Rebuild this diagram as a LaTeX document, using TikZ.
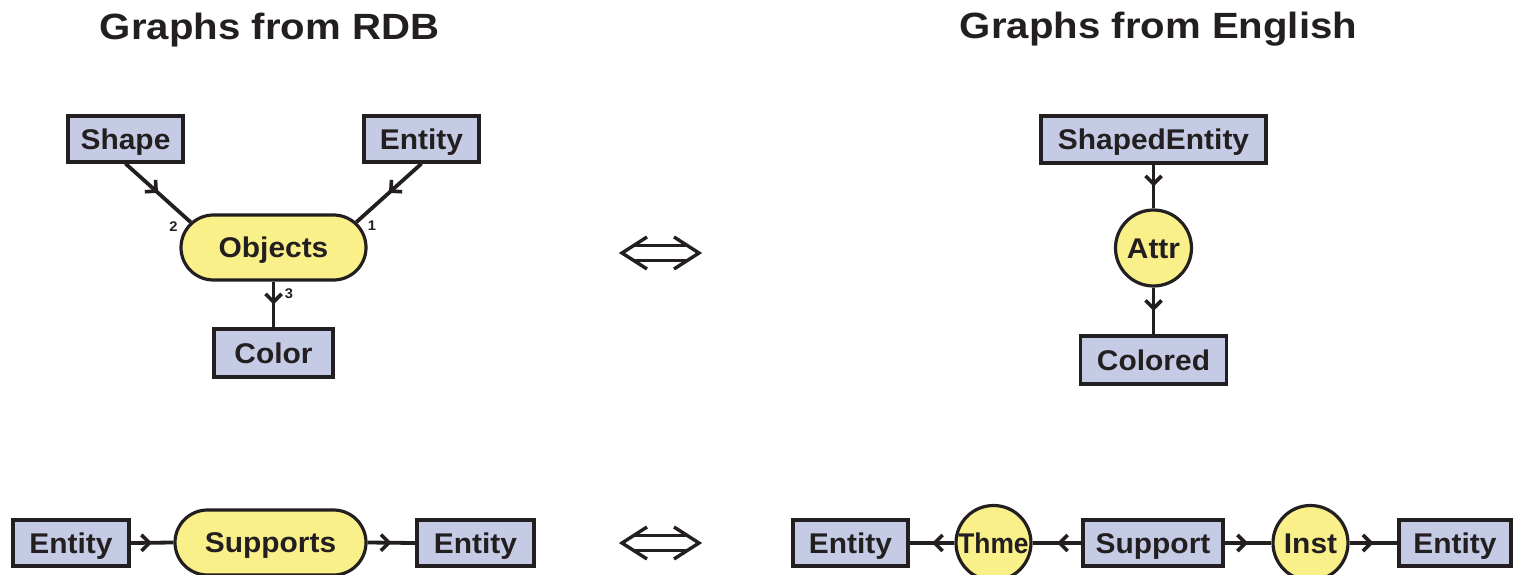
\documentclass[tikz,border=0pt]{standalone}
\usepackage{fontspec}
\usepackage{graphicx}
\setmainfont{Liberation Sans}[FakeStretch=1.05]
\newfontfamily\ttlfont{Liberation Sans}[FakeStretch=1.1]
\usetikzlibrary{shapes.misc,shapes.geometric,decorations.markings,arrows.meta}
\definecolor{boxfill}{RGB}{197,203,229}
\definecolor{yel}{RGB}{249,240,138}
\definecolor{ink}{RGB}{35,31,32}
\tikzset{
  nodefont/.style={font=\bfseries\fontsize{28.5}{30}\selectfont, text=ink, text height=20.5pt, text depth=0pt},
  ent/.style={draw=ink, fill=boxfill, line width=3.2pt, inner sep=0pt, nodefont},
  rel/.style={draw=ink, fill=yel, rounded rectangle, line width=3.2pt, inner sep=0pt, nodefont},
  circ/.style={draw=ink, fill=yel, circle, line width=3.2pt, inner sep=0pt, minimum size=75pt, nodefont},
  conn/.style={draw=ink, line width=3.8pt, postaction={decorate},
    decoration={markings, mark=at position 0.5 with {\arrow{Straight Barb[length=8pt,width=16pt,line width=3.6pt]}}}},
  num/.style={font=\bfseries\fontsize{14}{14}\selectfont, text=ink, inner sep=0pt},
  ttl/.style={font=\ttlfont\bfseries\fontsize{36.5}{36}\selectfont, text=ink, inner sep=0pt, anchor=base},
  dbl/.style={draw=ink, line width=3.4pt, line join=miter, line cap=butt},
}
\begin{document}
\begin{tikzpicture}[x=1pt,y=-1pt]
\useasboundingbox (0,0) rectangle (1513,575);

% titles
\node[ttl] (t1) at (269.5,40) {Graphs from RDB};
\node[ttl] (t2) at (1158.5,39) {Graphs from English};

% top left
\node[ent, minimum width=115pt, minimum height=46pt] (shape) at (125.5,139) {Shape};
\node[ent, minimum width=115pt, minimum height=46pt] (ent1) at (421.5,139) {Entity};
\node[rel, minimum width=185pt, minimum height=65pt] (obj) at (273.5,247.5) {Objects};
\node[ent, minimum width=119pt, minimum height=48pt] (color) at (273.5,353) {Color};
\node[num] (n2) at (173.5,227) {2};
\node[num] (n1) at (372,226) {1};
\node[num] (n3) at (289,294) {3};
\draw[conn] (shape.south) -- (obj.163);
\draw[conn] (ent1.south) -- (obj.17);
\draw[conn] (obj.south) -- (color.north);

% top right
\node[ent, minimum width=225pt, minimum height=47pt] (shent) at (1153.5,139.5) {ShapedEntity};
\node[circ, minimum size=76pt] (attr) at (1153.5,248) {Attr};
\node[ent, minimum width=146pt, minimum height=48pt] (colored) at (1153.5,360) {Colored};
\draw[conn] (shent.south) -- (attr.north);
\draw[conn] (attr.south) -- (colored.north);

% bottom left
\node[ent, minimum width=116pt, minimum height=46pt] (b1) at (71,543) {Entity};
\node[rel, minimum width=191pt, minimum height=65pt] (sup) at (270.5,542.5) {Supports};
\node[ent, minimum width=117pt, minimum height=46pt] (b2) at (475.5,543) {Entity};
\draw[conn] (b1.east) -- (sup.west);
\draw[conn] (sup.east) -- (b2.west);

% bottom right
\node[ent, minimum width=115pt, minimum height=46pt] (b3) at (850.5,543) {Entity};
\node[circ] (thme) at (993.5,543) {\makebox[0pt]{\scalebox{0.88}[1]{Thme}}};
\node[ent, minimum width=140pt, minimum height=46pt] (supp) at (1153,543) {Support};
\node[circ] (inst) at (1310.5,543) {\makebox[0pt]{Inst}};
\node[ent, minimum width=112pt, minimum height=46pt] (b4) at (1455,543) {Entity};
\draw[conn] (supp.west) -- (thme.east);
\draw[conn] (thme.west) -- (b3.east);
\draw[conn] (supp.east) -- (inst.west);
\draw[conn] (inst.east) -- (b4.west);

% double arrows
\foreach \cy in {253,543}{
  \draw[dbl] (647,\cy-16) -- (622,\cy) -- (647,\cy+16);
  \draw[dbl] (674,\cy-16) -- (699,\cy) -- (674,\cy+16);
  \draw[dbl] (634,\cy-7.5) -- (687,\cy-7.5);
  \draw[dbl] (634,\cy+7.5) -- (687,\cy+7.5);
}
\end{tikzpicture}
\end{document}
